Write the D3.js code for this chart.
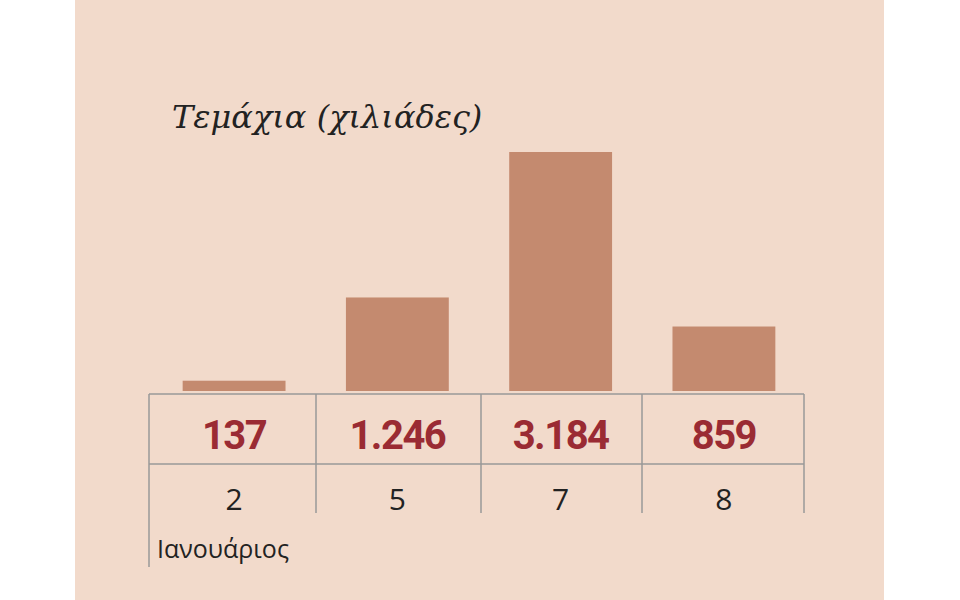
<!DOCTYPE html>
<html lang="el">
<head>
<meta charset="UTF-8">
<style>
  body { margin: 0; background: #fff; }
</style>
</head>
<body>
<svg id="chart" width="960" height="600"></svg>
<script src="https://cdn.jsdelivr.net/npm/d3@7"></script>
<script>
  const days = ['2', '5', '7', '8'];
  const values = [137, 1246, 3184, 859];
  const labels = ['137', '1.246', '3.184', '859'];

  const svg = d3.select('#chart');
  svg.append('rect').attr('x', 75).attr('y', 0).attr('width', 809).attr('height', 600).attr('fill', '#f2dacb');

  const x = d3.scaleBand().domain(days).range([150, 808]).paddingInner(0.37).paddingOuter(0.2);
  const y = d3.scaleLinear().domain([0, 3184]).range([391, 152]);

  svg.selectAll('rect.bar').data(values).enter().append('rect')
    .attr('class', 'bar')
    .attr('x', (d, i) => x(days[i]))
    .attr('width', x.bandwidth())
    .attr('y', d => y(d))
    .attr('height', d => y(0) - y(d))
    .attr('fill', '#c48a6f');

  const stroke = '#999';
  const cols = [149, 316, 481, 642, 804];
  svg.append('line').attr('x1', 149).attr('x2', 804).attr('y1', 394).attr('y2', 394).attr('stroke', stroke).attr('stroke-width', 1.5);
  svg.append('line').attr('x1', 149).attr('x2', 804).attr('y1', 464).attr('y2', 464).attr('stroke', stroke).attr('stroke-width', 1.5);
  cols.forEach((cx, i) => {
    svg.append('line').attr('x1', cx).attr('x2', cx).attr('y1', 394).attr('y2', i === 0 ? 567 : 513)
      .attr('stroke', stroke).attr('stroke-width', 1.5);
  });

  const centers = days.map(d => x(d) + x.bandwidth() / 2);
  svg.selectAll('text.val').data(labels).enter().append('text')
    .attr('x', (d, i) => centers[i]).attr('y', 449)
    .attr('text-anchor', 'middle')
    .attr('font-family', 'Roboto, sans-serif').attr('font-weight', 'bold').attr('font-size', 40)
    .attr('letter-spacing', -1.5)
    .attr('fill', '#9a2b33').text(d => d);

  svg.selectAll('text.day').data(days).enter().append('text')
    .attr('x', (d, i) => centers[i]).attr('y', 510)
    .attr('text-anchor', 'middle')
    .attr('font-family', '"Open Sans", sans-serif').attr('font-size', 30)
    .attr('fill', '#222').text(d => d);

  svg.append('text').attr('x', 157).attr('y', 558)
    .attr('font-family', '"Open Sans", sans-serif').attr('font-size', 25)
    .attr('fill', '#222').text('Ιανουάριος');

  svg.append('text').attr('x', 172).attr('y', 128)
    .attr('font-family', '"DejaVu Serif", serif').attr('font-style', 'italic').attr('font-size', 32)
    .attr('fill', '#222').text('Τεμάχια (χιλιάδες)');
</script>
</body>
</html>
